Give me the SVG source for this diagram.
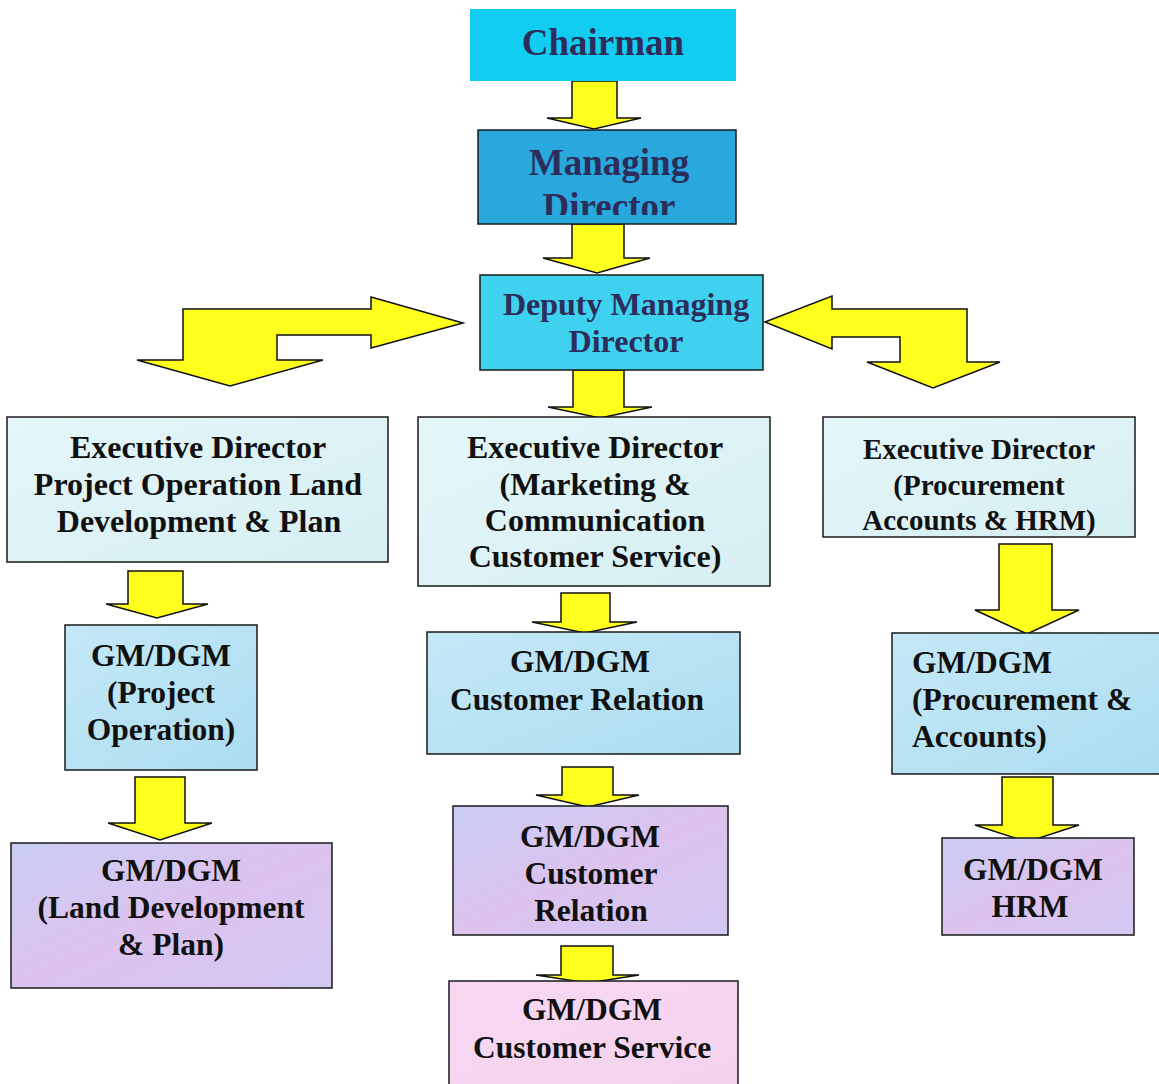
<svg xmlns="http://www.w3.org/2000/svg" width="1159" height="1084" viewBox="0 0 1159 1084">
<defs>
<style>
.t{font-family:"Liberation Serif","Times New Roman",serif;font-weight:bold;text-anchor:middle;fill:#111}
.n{fill:#2d2d5c}
.box{stroke:#1a1a1a;stroke-width:1.5}
.arr{fill:#ffff1e;stroke:#111;stroke-width:1.5;stroke-linejoin:miter}
</style>
<linearGradient id="gEd" x1="0" y1="0" x2="1" y2="1">
<stop offset="0" stop-color="#e4f6f8"/><stop offset="1" stop-color="#d6eff3"/>
</linearGradient>
<linearGradient id="gBl" x1="0" y1="0" x2="1" y2="1">
<stop offset="0" stop-color="#c4e9f7"/><stop offset="1" stop-color="#acdcf0"/>
</linearGradient>
<linearGradient id="gLv" x1="0" y1="0" x2="1" y2="1">
<stop offset="0" stop-color="#c9cdf4"/><stop offset="0.5" stop-color="#dcc3ee"/><stop offset="1" stop-color="#d2c8f2"/>
</linearGradient>
<linearGradient id="gPk" x1="0" y1="0" x2="1" y2="1">
<stop offset="0" stop-color="#f8d8f1"/><stop offset="1" stop-color="#f3d2ee"/>
</linearGradient>
<clipPath id="mdClip"><rect x="478" y="130" width="258" height="85"/></clipPath>
</defs>
<rect width="1159" height="1084" fill="#ffffff"/>

<g id="connectors">
<polygon class="arr" points="572,81 617,81 617,118 641,118 594,129 547,118 572,118"/>
<polygon class="arr" points="572,224 624,224 624,258 650,258 597,273 543,258 572,258"/>
<polygon class="arr" points="573,370 624,370 624,407 652,407 600,418 548,407 573,407"/>
<polygon class="arr" points="463,323 371,297 371,309 183,309 183,360 137,360 230,386 323,360 277,360 277,335 371,335 371,348"/>
<polygon class="arr" points="765,322 832,296 832,309 967,309 967,362 1000,362 933,388 867,362 900,362 900,337 832,337 832,349"/>
<polygon class="arr" points="128,571 183,571 183,604 208,604 157,618 106,604 128,604"/>
<polygon class="arr" points="135,777 185,777 185,823 212,823 160,840 108,823 135,823"/>
<polygon class="arr" points="561,593 610,593 610,622 637,622 585,633 532,622 561,622"/>
<polygon class="arr" points="562,767 613,767 613,795 639,795 588,807 536,795 562,795"/>
<polygon class="arr" points="561,946 613,946 613,975 639,975 588,983 536,975 561,975"/>
<polygon class="arr" points="999,544 1052,544 1052,610 1079,610 1027,634 975,610 999,610"/>
<polygon class="arr" points="1002,777 1053,777 1053,825 1079,825 1027,842 975,825 1002,825"/>
</g>

<g id="chairman">
<rect x="470" y="9" width="266" height="72" fill="#12cdf2"/>
<text class="t n" x="603" y="55" font-size="37">Chairman</text>
</g>

<g id="managing-director">
<rect class="box" x="478" y="130" width="258" height="94" fill="#28a8dc"/>
<text class="t n" x="609" y="175" font-size="37">Managing</text>
<text class="t n" x="609" y="219" font-size="37" clip-path="url(#mdClip)">Director</text>
</g>

<g id="deputy-md">
<rect class="box" x="480" y="275" width="283" height="95" fill="#3fd2ef"/>
<text class="t n" x="626" y="315" font-size="32">Deputy Managing</text>
<text class="t n" x="626" y="352" font-size="32">Director</text>
</g>

<g id="ed-project">
<rect class="box" x="7" y="417" width="381" height="145" fill="url(#gEd)"/>
<text class="t" x="198" y="458" font-size="32">Executive Director</text>
<text class="t" x="198" y="495" font-size="32">Project Operation Land</text>
<text class="t" x="199" y="532" font-size="32">Development &amp; Plan</text>
</g>

<g id="ed-marketing">
<rect class="box" x="418" y="417" width="352" height="169" fill="url(#gEd)"/>
<text class="t" x="595" y="458" font-size="32">Executive Director</text>
<text class="t" x="595" y="495" font-size="32">(Marketing &amp;</text>
<text class="t" x="595" y="531" font-size="32">Communication</text>
<text class="t" x="595" y="567" font-size="32">Customer Service)</text>
</g>

<g id="ed-procurement">
<rect class="box" x="823" y="417" width="312" height="120" fill="url(#gEd)"/>
<text class="t" x="979" y="459" font-size="29">Executive Director</text>
<text class="t" x="979" y="495" font-size="29">(Procurement</text>
<text class="t" x="979" y="530" font-size="29">Accounts &amp; HRM)</text>
</g>

<g id="gm-project-operation">
<rect class="box" x="65" y="625" width="192" height="145" fill="url(#gBl)"/>
<text class="t" x="161" y="666" font-size="31.5">GM/DGM</text>
<text class="t" x="161" y="703" font-size="31.5">(Project</text>
<text class="t" x="161" y="740" font-size="31.5">Operation)</text>
</g>

<g id="gm-land-development">
<rect class="box" x="11" y="843" width="321" height="145" fill="url(#gLv)"/>
<text class="t" x="171" y="881" font-size="31.5">GM/DGM</text>
<text class="t" x="171" y="918" font-size="31.5">(Land Development</text>
<text class="t" x="171" y="955" font-size="31.5">&amp; Plan)</text>
</g>

<g id="gm-customer-relation-1">
<rect class="box" x="427" y="632" width="313" height="122" fill="url(#gBl)"/>
<text class="t" x="580" y="672" font-size="31.5">GM/DGM</text>
<text class="t" x="577" y="710" font-size="31.5">Customer Relation</text>
</g>

<g id="gm-customer-relation-2">
<rect class="box" x="453" y="806" width="275" height="129" fill="url(#gLv)"/>
<text class="t" x="590" y="847" font-size="31.5">GM/DGM</text>
<text class="t" x="591" y="884" font-size="31.5">Customer</text>
<text class="t" x="591" y="921" font-size="31.5">Relation</text>
</g>

<g id="gm-customer-service">
<rect class="box" x="449" y="981" width="289" height="110" fill="url(#gPk)"/>
<text class="t" x="592" y="1020" font-size="31.5">GM/DGM</text>
<text class="t" x="592" y="1058" font-size="31.5">Customer Service</text>
</g>

<g id="gm-procurement">
<rect class="box" x="892" y="633" width="275" height="141" fill="url(#gBl)"/>
<text class="t" x="912" y="673" font-size="31.5" style="text-anchor:start">GM/DGM</text>
<text class="t" x="912" y="710" font-size="31.5" style="text-anchor:start">(Procurement &amp;</text>
<text class="t" x="912" y="747" font-size="31.5" style="text-anchor:start">Accounts)</text>
</g>

<g id="gm-hrm">
<rect class="box" x="942" y="838" width="192" height="97" fill="url(#gLv)"/>
<text class="t" x="1033" y="880" font-size="31.5">GM/DGM</text>
<text class="t" x="1030" y="917" font-size="31.5">HRM</text>
</g>
</svg>
